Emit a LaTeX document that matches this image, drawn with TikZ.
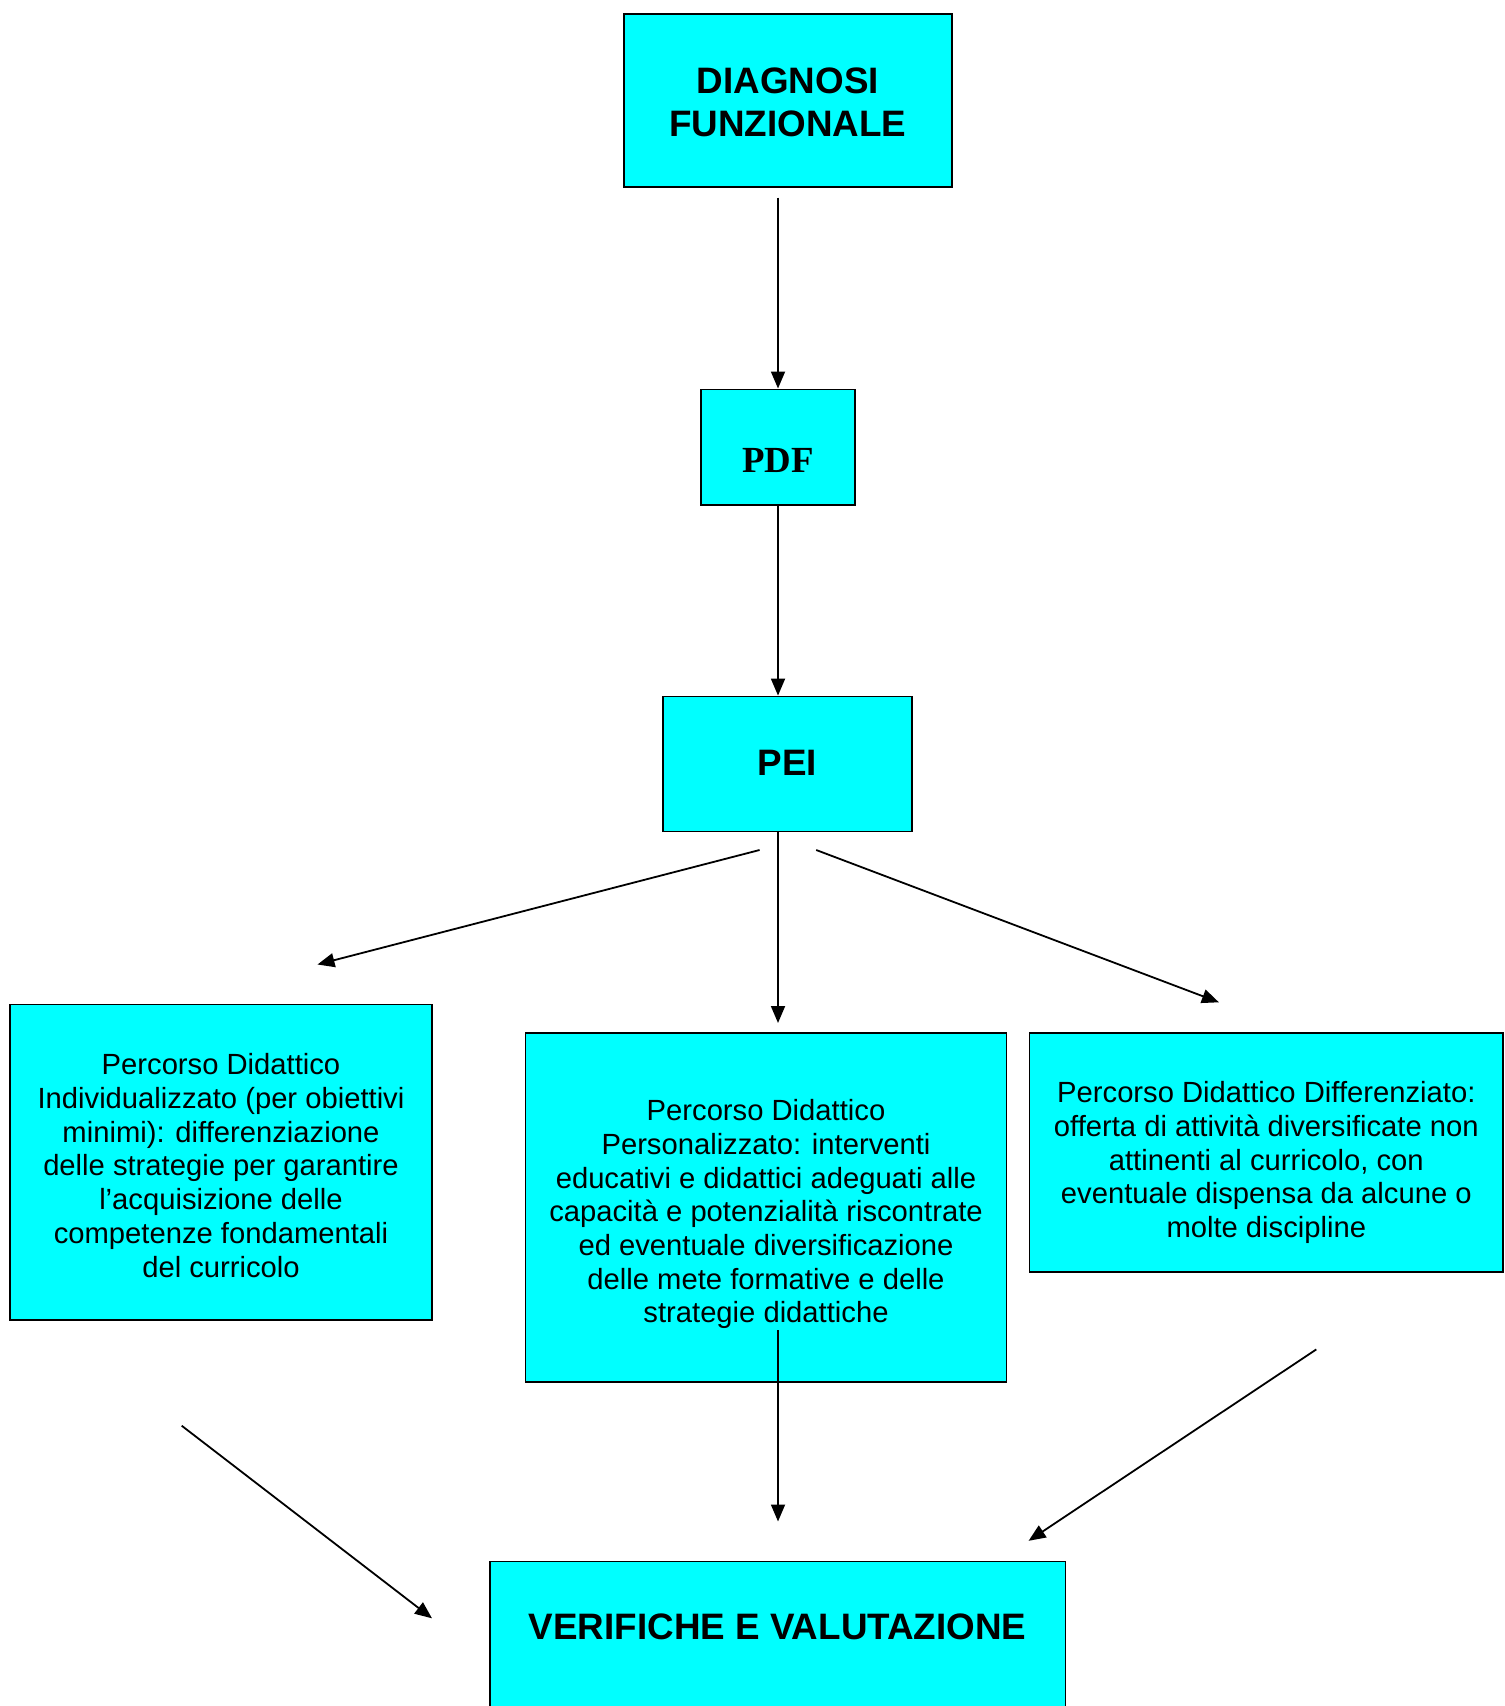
\documentclass[tikz,border=0pt]{standalone}
\usepackage{fontspec}
\setmainfont{Liberation Sans}
\newfontfamily\timesfont{Liberation Serif}
\usepackage{xcolor}
\usepackage{tikz}
\usetikzlibrary{arrows.meta}
\definecolor{aqua}{HTML}{00FFFF}
\tikzset{edge/.style = {->,> = {Triangle[length=8.5pt,width=7pt]},line width=0.9pt}}
\newcommand{\titlefont}{\fontsize{18.4}{21.4}\selectfont\bfseries}
\newcommand{\bodyfont}{\fontsize{14.6}{16.85}\selectfont}

\begin{document}
\begin{tikzpicture}[x=0.5pt,y=-0.5pt,line width=0.9pt,
    box node/.style={rectangle,draw,fill=aqua,inner sep=0pt,align=center},
    title label/.style={font=\titlefont,align=center},
    body label/.style={font=\bodyfont,align=center}]
  \useasboundingbox (0,0) rectangle (1504,1706);
  \clip (0,0) rectangle (1504,1706);
  % top of the chain
  \node[box node,minimum width=163.8pt,minimum height=86.2pt,
        label={[title label,yshift=-1.1pt]center:{DIAGNOSI\\FUNZIONALE}}] (diag) at (787.9,100.5) {};
  \node[box node,minimum width=77.3pt,minimum height=57.8pt,
        label={[yshift=-6.4pt,font=\fontsize{18.4}{21.4}\selectfont\timesfont\bfseries]center:PDF}] (pdf) at (778,447.2) {};
  \node[box node,minimum width=124.6pt,minimum height=67.5pt,
        label={[title label,yshift=0.8pt]center:PEI}] (pei) at (787.4,764) {};
  % the three paths
  \node[box node,minimum width=211.2pt,minimum height=157.8pt,
        label={[body label,yshift=-1.6pt]center:{Percorso Didattico\\Individualizzato (per obiettivi\\minimi): differenziazione\\delle strategie per garantire\\l’acquisizione delle\\competenze fondamentali\\del curricolo}}] (indiv) at (221,1162.3) {};
  \node[box node,minimum width=240.5pt,minimum height=174.5pt,
        label={[body label,yshift=-3.5pt]center:{Percorso Didattico\\Personalizzato: interventi\\educativi e didattici adeguati alle\\capacità e potenzialità riscontrate\\ed eventuale diversificazione\\delle mete formative e delle\\strategie didattiche}}] (pers) at (766,1207.3) {};
  \node[box node,minimum width=236.8pt,minimum height=119.5pt,
        label={[body label,yshift=-5.2pt]center:{Percorso Didattico Differenziato:\\offerta di attività diversificate non\\attinenti al curricolo, con\\eventuale dispensa da alcune o\\molte discipline}}] (diff) at (1266.3,1152.3) {};
  % bottom
  \node[box node,minimum width=287.9pt,minimum height=84.3pt,
        label={[title label,yshift=9.35pt]center:VERIFICHE E VALUTAZIONE}] (verif) at (777.6,1645.7) {};
  % free ends of the connectors
  \coordinate (pl1) at (759.6,850);
  \coordinate (pl2) at (317.5,964.5);
  \coordinate (pr1) at (816.2,850);
  \coordinate (pr2) at (1218.9,1002.3);
  \coordinate (pm2) at (778,1023);
  \coordinate (vm1) at (778,1330);
  \coordinate (vm2) at (778,1521.5);
  \coordinate (vr1) at (1316.3,1349.4);
  \coordinate (vr2) at (1028.6,1540.8);
  \coordinate (vl1) at (181.7,1425.7);
  \coordinate (vl2) at (432,1618.3);
  \draw[edge,shorten <=5pt] (pdf.north |- diag.south) -- (pdf.north);
  \draw[edge] (pdf.south) -- (pdf.south |- pei.north);
  \draw[edge] (pdf.south |- pei.south) -- (pm2);
  \draw[edge] (pl1) -- (pl2);
  \draw[edge] (pr1) -- (pr2);
  \draw[edge] (vm1) -- (vm2);
  \draw[edge] (vr1) -- (vr2);
  \draw[edge] (vl1) -- (vl2);
\end{tikzpicture}
\end{document}
